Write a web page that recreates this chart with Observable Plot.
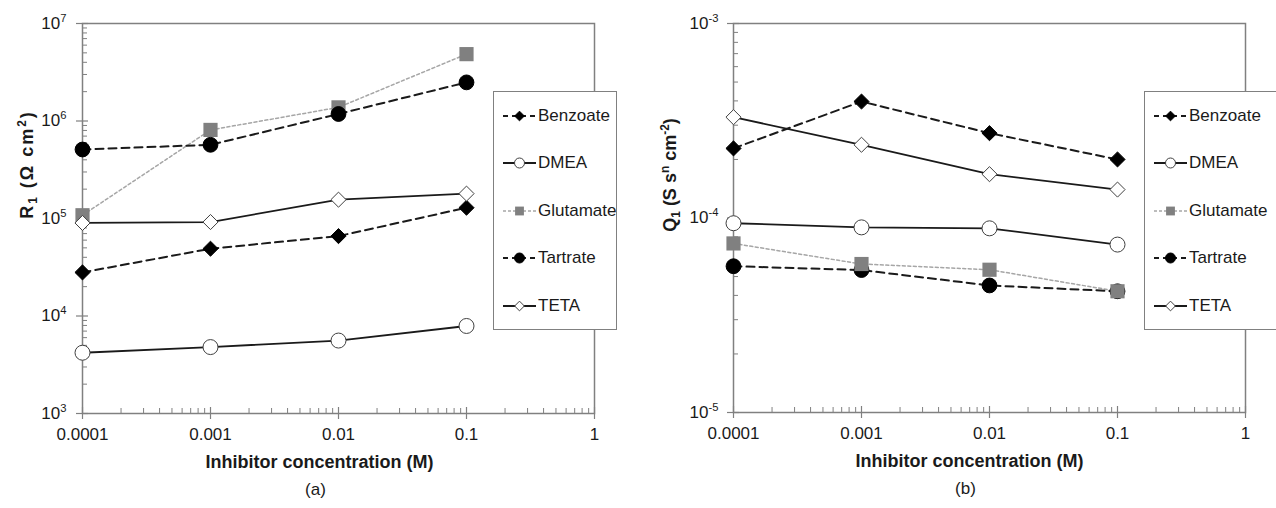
<!DOCTYPE html>
<html><head><meta charset="utf-8">
<script src="https://cdn.jsdelivr.net/npm/d3@7"></script>
<script src="https://cdn.jsdelivr.net/npm/@observablehq/plot@0.6"></script>
<style>
body{margin:0;background:#fff;font-family:"Liberation Sans",Arial,sans-serif;}
#wrap{position:relative;width:1276px;height:508px;overflow:hidden;background:#fff;}
.panel{position:absolute;top:0;}
.legend{position:absolute;background:#fff;border:1.5px solid #808080;box-sizing:border-box;}
.entry{position:absolute;left:9px;height:20px;display:flex;align-items:center;font-size:17px;color:#1a1a1a;white-space:nowrap;}
.entry svg{display:block;margin-right:2px;}
</style></head><body><div id="wrap"></div>
<script>
// ---------- data ----------
const concentrations = [0.0001, 0.001, 0.01, 0.1];
const seriesNames = ["Benzoate", "DMEA", "Glutamate", "Tartrate", "TETA"];

// Panel (a): R1 (Ω cm²)
const R1_Benzoate  = [2.8e4, 4.9e4, 6.6e4, 1.29e5];
const R1_DMEA      = [4.2e3, 4.8e3, 5.6e3, 7.9e3];
const R1_Glutamate = [1.08e5, 8.1e5, 1.38e6, 4.85e6];
const R1_Tartrate  = [5.1e5, 5.7e5, 1.18e6, 2.49e6];
const R1_TETA      = [9.0e4, 9.2e4, 1.56e5, 1.8e5];

// Panel (b): Q1 (S s^n cm^-2)
const Q1_Benzoate  = [2.28e-4, 3.97e-4, 2.73e-4, 2.0e-4];
const Q1_DMEA      = [9.4e-5, 8.95e-5, 8.85e-5, 7.3e-5];
const Q1_Glutamate = [7.4e-5, 5.8e-5, 5.42e-5, 4.2e-5];
const Q1_Tartrate  = [5.65e-5, 5.4e-5, 4.5e-5, 4.2e-5];
const Q1_TETA      = [3.3e-4, 2.38e-4, 1.68e-4, 1.4e-4];

// axis ticks and labels
const xTicks = [0.0001, 0.001, 0.01, 0.1, 1];
const xTickLabels = ["0.0001", "0.001", "0.01", "0.1", "1"];
const yTicksA = [1e3, 1e4, 1e5, 1e6, 1e7];
const yTickLabelsA = ["10³", "10⁴", "10⁵", "10⁶", "10⁷"];
const yTicksB = [1e-5, 1e-4, 1e-3];
const yTickLabelsB = ["10⁻⁵", "10⁻⁴", "10⁻³"];
const minorMultipliers = [2, 3, 4, 5, 6, 7, 8, 9];

const xTitle = "Inhibitor concentration (M)";
const yTitleA = "R₁ (Ω cm²)";
const yTitleB = "Q₁ (S sⁿ cm⁻²)";

// ---------- styles ----------
const styles = {
  Benzoate:  {symbol: "diamond2", fill: "#000", stroke: "#000", r: 6.8, line: "#1a1a1a", dash: "8,5", lw: 2, ldash: "5,4"},
  DMEA:      {symbol: "circle", fill: "#fff", stroke: "#404040", r: 7.5, line: "#1a1a1a", dash: null, lw: 1.8, ldash: null},
  Glutamate: {symbol: "square", fill: "#808080", stroke: "none", r: 8, line: "#a6a6a6", dash: "3,2.5", lw: 1.5, ldash: "3,2"},
  Tartrate:  {symbol: "circle", fill: "#000", stroke: "#000", r: 7.4, line: "#1a1a1a", dash: "8,5", lw: 2, ldash: "5,4"},
  TETA:      {symbol: "diamond2", fill: "#fff", stroke: "#404040", r: 6.8, line: "#1a1a1a", dash: null, lw: 1.8, ldash: null}
};

function rows(valuesBySeries) {
  const out = [];
  for (const s of seriesNames) valuesBySeries[s].forEach((v, i) => out.push({series: s, x: concentrations[i], y: v}));
  return out;
}
const dataA = rows({Benzoate: R1_Benzoate, DMEA: R1_DMEA, Glutamate: R1_Glutamate, Tartrate: R1_Tartrate, TETA: R1_TETA});
const dataB = rows({Benzoate: Q1_Benzoate, DMEA: Q1_DMEA, Glutamate: Q1_Glutamate, Tartrate: Q1_Tartrate, TETA: Q1_TETA});

function minorOf(majors) {
  const out = [];
  for (let i = 0; i < majors.length - 1; i++) for (const m of minorMultipliers) out.push(majors[i] * m);
  return out;
}

const FONT = "'Liberation Sans', Arial, sans-serif";

function makePanel(o) {
  const plotW = o.width - o.marginLeft - o.marginRight;
  const plotH = o.height - o.marginTop - o.marginBottom;
  const marks = [];
  marks.push(Plot.tickY(minorOf(o.yTicks), {y: d => d, stroke: "#808080", strokeWidth: 1, insetRight: plotW - 5}));
  marks.push(Plot.tickY(o.yTicks, {y: d => d, stroke: "#808080", strokeWidth: 1.2, insetLeft: -6, insetRight: plotW - 6}));
  marks.push(Plot.tickX(minorOf(xTicks), {x: d => d, stroke: "#808080", strokeWidth: 1, insetTop: plotH - 5}));
  marks.push(Plot.tickX(xTicks, {x: d => d, stroke: "#808080", strokeWidth: 1.2, insetTop: plotH - 6, insetBottom: -6}));
  marks.push(Plot.frame({stroke: "#808080", strokeWidth: 1.5}));
  marks.push(Plot.axisY({ticks: o.yTicks, tickFormat: d => o.yLabels[o.yTicks.indexOf(d)], tickSize: 0, tickPadding: o.yPad, fontSize: 17, fill: "#1a1a1a", label: null}));
  marks.push(Plot.axisX({ticks: xTicks, tickFormat: d => xTickLabels[xTicks.indexOf(d)], tickSize: 0, tickPadding: 14, fontSize: 17, fill: "#1a1a1a", label: null}));
  for (const s of seriesNames) {
    const st = styles[s];
    marks.push(Plot.line(o.data.filter(d => d.series === s), {x: "x", y: "y", stroke: st.line, strokeWidth: st.lw, strokeDasharray: st.dash || undefined}));
  }
  for (const s of o.order) {
    const st = styles[s];
    marks.push(Plot.dot(o.data.filter(d => d.series === s), {x: "x", y: "y", symbol: st.symbol, r: st.r, fill: st.fill, stroke: st.stroke, strokeWidth: 1}));
  }
  marks.push(Plot.text([o.yTitle], {text: d => d, frameAnchor: "left", textAnchor: "middle", dx: o.yTitleDx, dy: o.yTitleDy, rotate: -90, fontWeight: "bold", fontSize: 18, fill: "#1a1a1a", className: o.yTitleClass}));
  marks.push(Plot.text([xTitle], {text: d => d, frameAnchor: "bottom-left", dx: o.xTitleDx, dy: 54, textAnchor: "start", fontWeight: "bold", fontSize: 18, fill: "#1a1a1a"}));
  marks.push(Plot.text([o.caption], {text: d => d, frameAnchor: "bottom-left", textAnchor: "middle", dx: o.capDx, dy: 81, fontSize: 17, fill: "#1a1a1a"}));
  return Plot.plot({
    width: o.width, height: o.height,
    marginLeft: o.marginLeft, marginRight: o.marginRight, marginTop: o.marginTop, marginBottom: o.marginBottom,
    x: {type: "log", domain: [1e-4, 1], axis: null},
    y: {type: "log", domain: o.yDomain, axis: null},
    style: {fontFamily: FONT, fontSize: "17px", background: "transparent", overflow: "visible"},
    marks
  });
}

// convert unicode super/subscripts in texts into real tspans
const SUP = {"⁰":"0","¹":"1","²":"2","³":"3","⁴":"4","⁵":"5","⁶":"6","⁷":"7","⁸":"8","⁹":"9","⁻":"-","ⁿ":"n"};
const SUB = {"₀":"0","₁":"1","₂":"2"};
function richify(svg) {
  svg.querySelectorAll("text").forEach(t => {
    const s = t.textContent;
    const chars = [...s];
    if (!chars.some(c => SUP[c] || SUB[c])) return;
    const fs = parseFloat(getComputedStyle(t).fontSize) || 17;
    const runs = [];
    for (const c of chars) {
      const type = SUP[c] ? "sup" : SUB[c] ? "sub" : "n";
      const ch = SUP[c] || SUB[c] || c;
      if (runs.length && runs[runs.length - 1].type === type) runs[runs.length - 1].text += ch;
      else runs.push({type, text: ch});
    }
    while (t.firstChild) t.removeChild(t.firstChild);
    let cur = 0;
    for (const r of runs) {
      const off = r.type === "sup" ? -0.42 * fs : r.type === "sub" ? 0.22 * fs : 0;
      const ts = document.createElementNS("http://www.w3.org/2000/svg", "tspan");
      ts.textContent = r.text;
      if (off !== cur) ts.setAttribute("dy", (off - cur).toFixed(2));
      if (r.type !== "n") ts.setAttribute("font-size", (fs * 0.66).toFixed(2));
      cur = off;
      t.appendChild(ts);
    }
  });
}

const wrap = document.getElementById("wrap");

const pA = makePanel({
  width: 630, height: 508, marginLeft: 82, marginRight: 36, marginTop: 23, marginBottom: 95,
  data: dataA, yDomain: [1e3, 1e7], yTicks: yTicksA, yLabels: yTickLabelsA, yPad: 16,
  order: ["Benzoate", "DMEA", "Glutamate", "Tartrate", "TETA"],
  yTitle: yTitleA, yTitleDx: -55, yTitleDy: -54, yTitleClass: "ytitle-wide", xTitleDx: 123, caption: "(a)", capDx: 233
});
pA.classList.add("panel"); pA.style.left = "0px";
wrap.appendChild(pA);

const pB = makePanel({
  width: 638, height: 508, marginLeft: 95, marginRight: 31, marginTop: 23, marginBottom: 96,
  data: dataB, yDomain: [1e-5, 1e-3], yTicks: yTicksB, yLabels: yTickLabelsB, yPad: 15,
  order: ["Benzoate", "DMEA", "Tartrate", "Glutamate", "TETA"],
  yTitle: yTitleB, yTitleDx: -63, yTitleDy: -43, yTitleClass: "ytitle", xTitleDx: 122, caption: "(b)", capDx: 232
});
pB.classList.add("panel"); pB.style.left = "638px";
wrap.appendChild(pB);

richify(pA); richify(pB);
pA.querySelectorAll(".ytitle-wide text").forEach(t => t.style.letterSpacing = "2px");

// ---------- legends ----------
function legendSymbol(s) {
  const st = styles[s];
  const ns = "http://www.w3.org/2000/svg";
  const svg = document.createElementNS(ns, "svg");
  svg.setAttribute("width", 33); svg.setAttribute("height", 18);
  const line = document.createElementNS(ns, "line");
  line.setAttribute("x1", 0); line.setAttribute("x2", 33); line.setAttribute("y1", 9); line.setAttribute("y2", 9);
  line.setAttribute("stroke", st.line); line.setAttribute("stroke-width", st.lw);
  if (st.ldash) line.setAttribute("stroke-dasharray", st.ldash);
  svg.appendChild(line);
  const sym = {circle: d3.symbolCircle, square: d3.symbolSquare, diamond2: d3.symbolDiamond2}[st.symbol];
  const size = st.symbol === "circle" ? Math.PI * 25 : (st.symbol === "square" ? 78 : 60);
  const path = document.createElementNS(ns, "path");
  path.setAttribute("d", d3.symbol(sym, size)());
  path.setAttribute("transform", "translate(16.5,9)");
  path.setAttribute("fill", st.fill); path.setAttribute("stroke", st.stroke); path.setAttribute("stroke-width", 1);
  svg.appendChild(path);
  return svg;
}
function legend(left, top, width, height) {
  const box = document.createElement("div");
  box.className = "legend";
  Object.assign(box.style, {left: left + "px", top: top + "px", width: width + "px", height: height + "px"});
  seriesNames.forEach((s, i) => {
    const e = document.createElement("div");
    e.className = "entry";
    e.style.top = (25 + 47.6 * i - 10 - 1.5) + "px";
    e.appendChild(legendSymbol(s));
    const t = document.createElement("span"); t.textContent = s; e.appendChild(t);
    box.appendChild(e);
  });
  wrap.appendChild(box);
}
legend(493, 91, 124, 239);
legend(1144, 91, 133, 239);
</script>
</body></html>
